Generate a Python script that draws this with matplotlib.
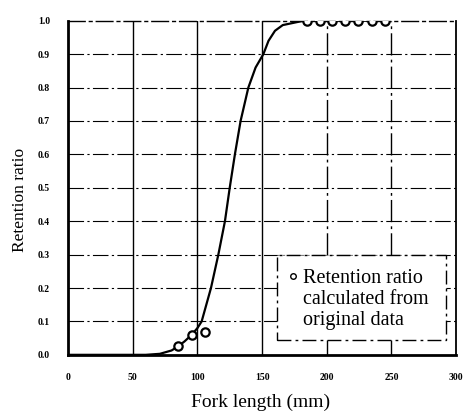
import matplotlib
matplotlib.use('Agg')
import matplotlib.pyplot as plt
from matplotlib.patches import Rectangle

# fitted selection curve
curve_x = [0, 60, 71, 80, 85, 90, 95.6, 100, 103.3, 110.5, 116.2, 121.3, 125, 129, 133.4, 139.4, 145, 151, 155, 160, 166, 182, 245]
curve_y = [0.0, 0.0, 0.003, 0.013, 0.025, 0.04, 0.06, 0.08, 0.1, 0.2, 0.3, 0.4, 0.5, 0.6, 0.7, 0.8, 0.86, 0.9, 0.94, 0.97, 0.987, 1.0, 1.0]

# retention ratio calculated from original data
obs_x = [85, 95.5, 106, 185, 195, 204, 214, 224, 235, 245]
obs_y = [0.025, 0.06, 0.068, 1.0, 1.0, 1.0, 1.0, 1.0, 1.0, 1.0]

xticks = [0, 50, 100, 150, 200, 250, 300]
yticks = [0.0, 0.1, 0.2, 0.3, 0.4, 0.5, 0.6, 0.7, 0.8, 0.9, 1.0]
ytick_labels = ['0.0', '0.1', '0.2', '0.3', '0.4', '0.5', '0.6', '0.7', '0.8', '0.9', '1.0']

plt.rcParams['font.family'] = ['Liberation Serif', 'DejaVu Serif']

fig = plt.figure(figsize=(4.63, 4.15), dpi=100)
ax = fig.add_axes([0.147, 0.145, 0.838, 0.805])

# grid
for yv in yticks[1:-1]:
    ax.axhline(yv, color='black', lw=0.8, ls=(0, (14, 3, 2, 3)), zorder=1)
for xv in xticks[1:-1]:
    ls = '-' if xv <= 150 else (0, (16, 3, 2, 3))
    ax.axvline(xv, color='black', lw=1.0, ls=ls, zorder=1)

ax.plot(curve_x, curve_y, color='black', lw=1.6, zorder=3)
ax.plot(obs_x, obs_y, ls='none', marker='o', ms=6, mfc='white', mec='black', mew=1.6, zorder=4)

ax.set_xlim(0, 300)
ax.set_ylim(0, 1.0)
ax.set_xticks(xticks)
ax.set_xticklabels([str(v) for v in xticks])
ax.set_yticks(yticks)
ax.set_yticklabels(ytick_labels)
ax.tick_params(length=0, labelsize=7, pad=13)
for lab in ax.get_xticklabels() + ax.get_yticklabels():
    lab.set_fontweight('bold')

ax.spines['left'].set_linewidth(2.0)
ax.spines['bottom'].set_linewidth(2.0)
ax.spines['right'].set_linewidth(1.3)
ax.spines['top'].set_linewidth(1.0)
ax.spines['top'].set_linestyle((0, (12, 3, 2, 3)))

# legend box
box = Rectangle((0.538, 0.043), 0.436, 0.256, transform=ax.transAxes, facecolor='white',
                edgecolor='black', lw=1.0, ls=(0, (10, 3, 2, 3)), zorder=5)
ax.add_patch(box)
ax.plot([0.58], [0.236], transform=ax.transAxes, ls='none', marker='o', ms=4,
        mfc='white', mec='black', mew=1.0, zorder=6, clip_on=False)
ax.text(0.606, 0.166, 'Retention ratio\ncalculated from\noriginal data', transform=ax.transAxes,
        fontsize=14.5, va='center', ha='left', linespacing=1.12, zorder=6)

fig.text(0.043, 0.518, 'Retention ratio', rotation=90, ha='center', va='center', fontsize=12.5)
fig.text(0.562, 0.03, 'Fork length (mm)', ha='center', va='center', fontsize=14)

fig.savefig('out.png', dpi=100)
